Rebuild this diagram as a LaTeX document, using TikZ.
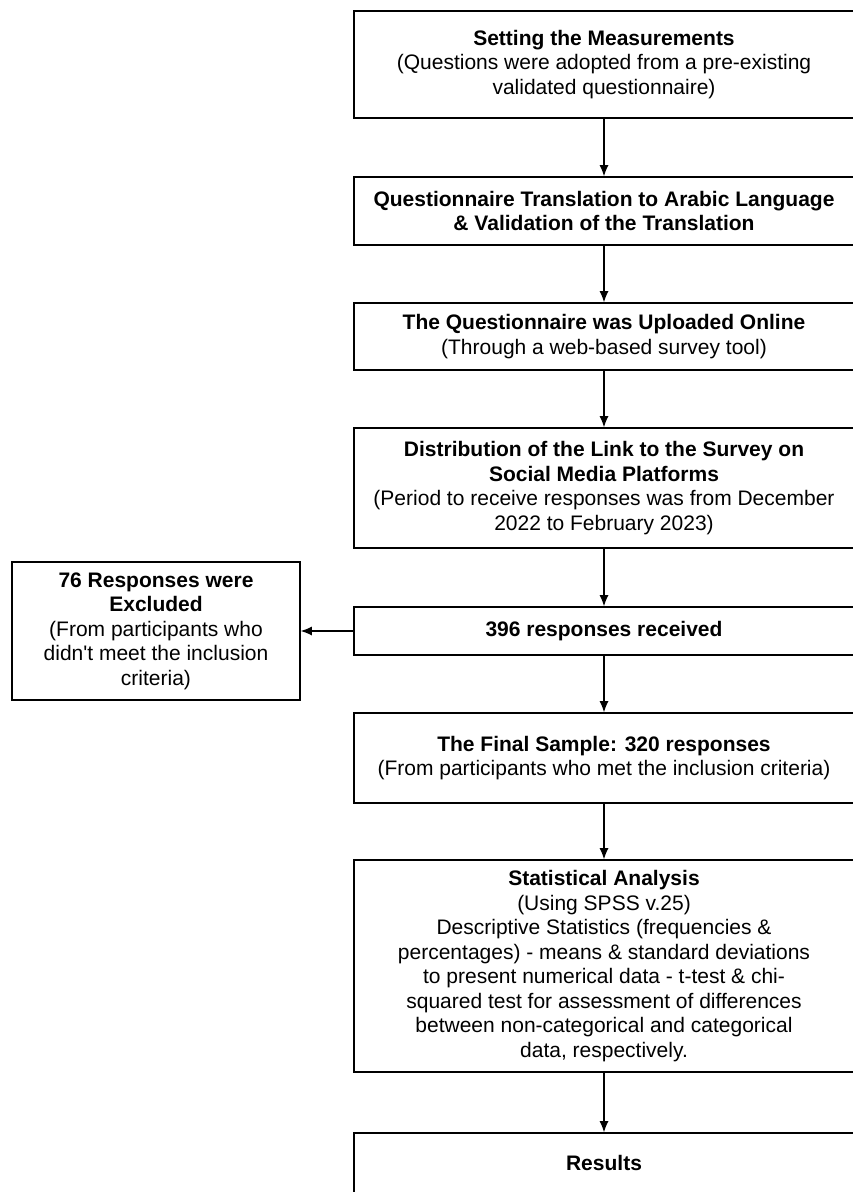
\documentclass[tikz,border=0pt]{standalone}
\usepackage{fontspec}
\setmainfont{Liberation Sans}
\usetikzlibrary{positioning,arrows.meta}

\begin{document}
\begin{tikzpicture}[
    box/.style={
        rectangle,
        draw=black,
        line width=1.6pt,
        minimum width=500pt,
        align=center,
        font=\fontsize{21}{24.5}\selectfont
    },
    arrow/.style={
        -{Latex[length=11pt,width=9pt]},
        line width=1.1pt,
        draw=black
    }
]
\useasboundingbox (0,0) rectangle (853pt,-1192pt);
\clip (0,0) rectangle (853pt,-1192pt);

\node[box,minimum height=107pt] (measure) at (604pt,-64.5pt)
{\textbf{Setting the Measurements}\\(Questions were adopted from a pre-existing\\validated questionnaire)};

\node[box,minimum height=68pt,below=57.4pt of measure] (translate)
{\textbf{Questionnaire Translation to Arabic Language}\\\textbf{\& Validation of the Translation}};

\node[box,minimum height=67pt,below=56.4pt of translate] (upload)
{\textbf{The Questionnaire was Uploaded Online}\\(Through a web-based survey tool)};

\node[box,minimum height=120pt,below=56.4pt of upload] (distrib)
{\textbf{Distribution of the Link to the Survey on}\\\textbf{Social Media Platforms}\\(Period to receive responses was from December\\2022 to February 2023)};

\node[box,minimum height=48pt,below=57.4pt of distrib] (received)
{\textbf{396 responses received}};

\node[box,minimum height=138pt,minimum width=288pt,left=52.4pt of received] (excluded)
{\textbf{76 Responses were}\\\textbf{Excluded}\\(From participants who\\didn\textquotesingle t meet the inclusion\\criteria)};

\node[box,minimum height=90pt,below=56.4pt of received] (sample)
{\textbf{The Final Sample: 320 responses}\\(From participants who met the inclusion criteria)};

\node[box,minimum height=212pt,below=55.4pt of sample] (analysis)
{\textbf{Statistical Analysis}\\(Using SPSS v.25)\\Descriptive Statistics (frequencies \&\\percentages) - means \& standard deviations\\to present numerical data - t-test \& chi-\\squared test for assessment of differences\\between non-categorical and categorical\\data, respectively.};

\node[box,minimum height=60pt,below=59.4pt of analysis] (results)
{\textbf{Results}};

\draw[arrow]
(measure) -- (translate);

\draw[arrow]
(translate) -- (upload);

\draw[arrow]
(upload) -- (distrib);

\draw[arrow]
(distrib) -- (received);

\draw[arrow]
(received) -- (excluded);

\draw[arrow]
(received) -- (sample);

\draw[arrow]
(sample) -- (analysis);

\draw[arrow]
(analysis) -- (results);

\end{tikzpicture}
\end{document}
